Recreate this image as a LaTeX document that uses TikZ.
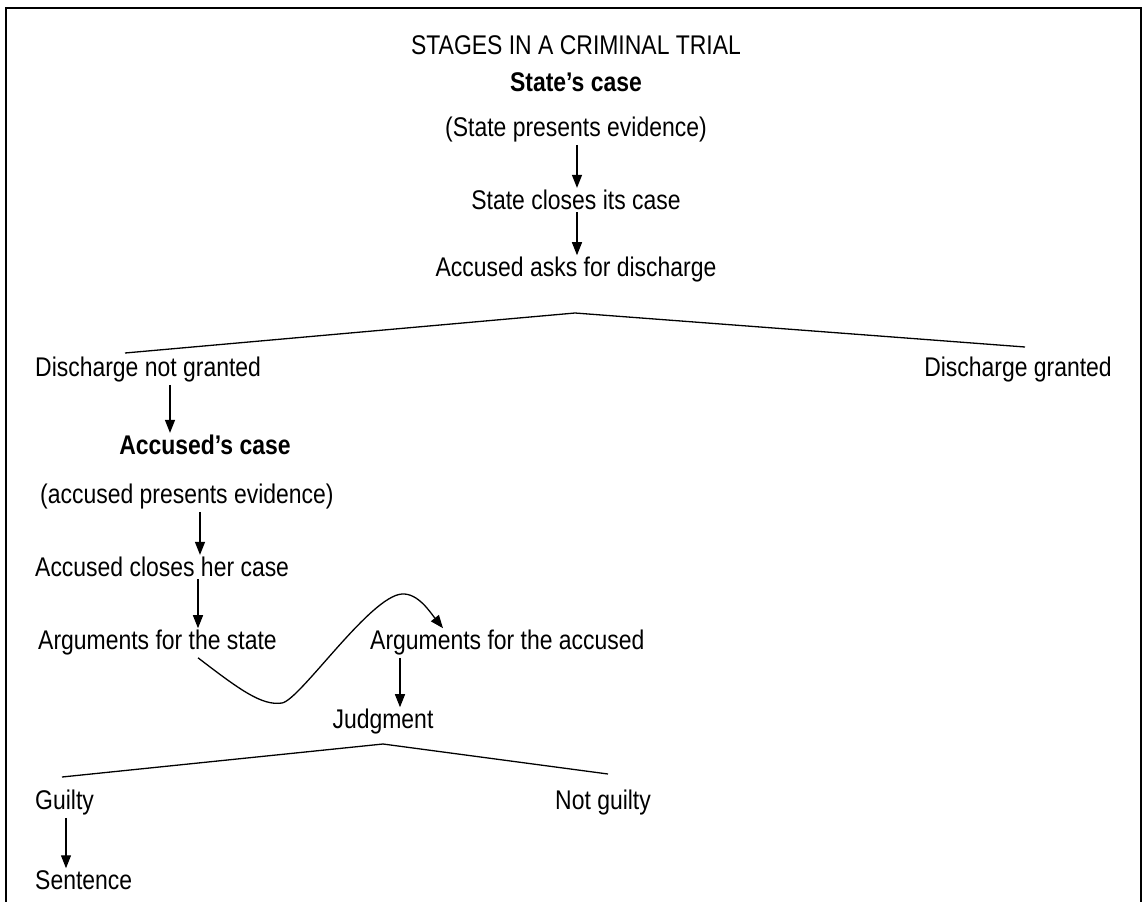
\documentclass[tikz,border=0pt]{standalone}
\usepackage{fontspec}
\setmainfont[FakeStretch=0.85]{Liberation Sans}
\usetikzlibrary{arrows.meta}
\begin{document}
\begin{tikzpicture}[x=1pt,y=-1pt,
  txt/.style={inner sep=2pt,font=\fontsize{27}{32}\selectfont},
  bld/.style={txt,font=\fontsize{27}{32}\selectfont\bfseries},
  arr/.style={line width=1.3pt,-{Triangle[length=13pt,width=10pt]}},
  ln/.style={line width=1.3pt}]
\useasboundingbox (0,0) rectangle (1143,902);
\draw[line width=2pt] (6,902) -- (6,8) -- (1141,8) -- (1141,902);
\node[txt] (title) at (576,45) {STAGES IN A CRIMINAL TRIAL};
\node[bld] (sc) at (576,82) {State’s case};
\node[txt] (spe) at (576,130) {(State presents evidence)};
\node[txt] (scl) at (576,200) {State closes its case};
\node[txt] (aad) at (576,270) {Accused asks for discharge};
\node[txt,anchor=west] (dng) at (33,370) {Discharge not granted};
\node[txt,anchor=east] (dg) at (1114,370) {Discharge granted};
\node[bld] (ac) at (205,445) {Accused’s case};
\node[txt,anchor=west] (ape) at (38,497) {(accused presents evidence)};
\node[txt,anchor=west] (acl) at (33,567) {Accused closes her case};
\node[txt,anchor=west] (afs) at (36,643) {Arguments for the state};
\node[txt,anchor=west] (afa) at (368,643) {Arguments for the accused};
\node[txt] (jud) at (383,722) {Judgment};
\node[txt,anchor=west] (gu) at (33,803) {Guilty};
\node[txt,anchor=west] (ng) at (553,803) {Not guilty};
\node[txt,anchor=west] (sen) at (33,880) {Sentence};
\coordinate (p1) at (575,313);
\coordinate (p1l) at (125,353);
\coordinate (p1r) at (1025,347);
\coordinate (p2) at (383,744);
\coordinate (p2l) at (62,777);
\coordinate (p2r) at (608,774);
\draw[arr] (577,0 |- spe.south) -- (577,0 |- scl.north);
\draw[arr] (577,0 |- scl.south) -- (577,0 |- aad.north);
\draw[ln] (p1l) -- (p1) -- (p1r);
\draw[arr] (170,0 |- dng.south) -- (170,0 |- ac.north);
\draw[arr] (200,0 |- ape.south) -- (200,0 |- acl.north);
\draw[arr] (198,0 |- acl.south) -- (198,0 |- afs.north);
\draw[arr] (198,0 |- afs.south) .. controls (240,690) and (262,706) .. (282,703)
  .. controls (300,700) and (370,596) .. (402,594)
  .. controls (418,593) and (430,612) .. (443,0 |- afa.north);
\draw[arr] (400,0 |- afa.south) -- (400,0 |- jud.north);
\draw[ln] (p2l) -- (p2) -- (p2r);
\draw[arr] (66,0 |- gu.south) -- (66,0 |- sen.north);
\end{tikzpicture}
\end{document}
